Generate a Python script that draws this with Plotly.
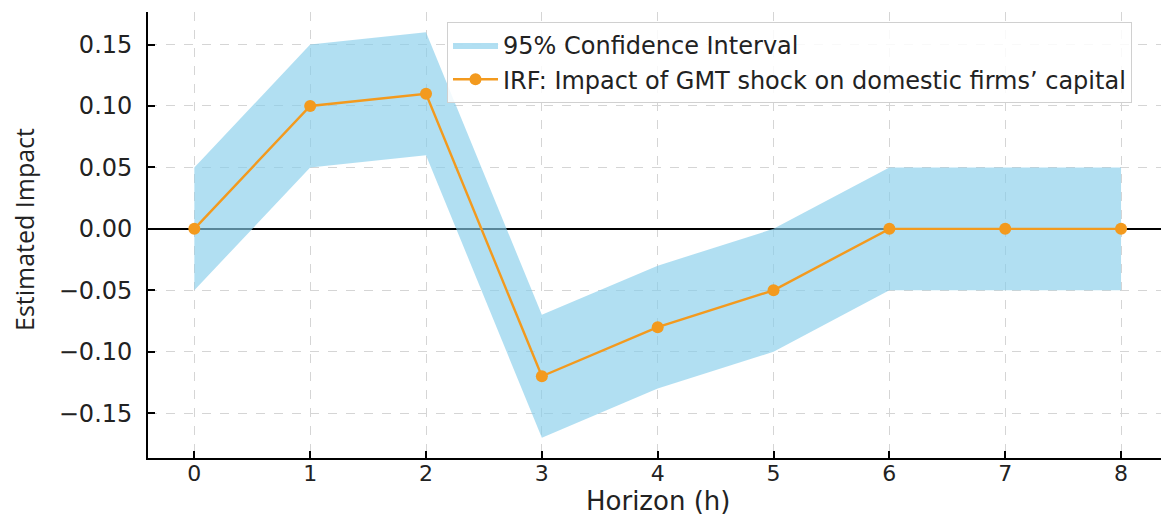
import plotly.graph_objects as go

horizon = [0, 1, 2, 3, 4, 5, 6, 7, 8]
irf = [0.00, 0.10, 0.11, -0.12, -0.08, -0.05, 0.00, 0.00, 0.00]
lower = [-0.05, 0.05, 0.06, -0.17, -0.13, -0.10, -0.05, -0.05, -0.05]
upper = [0.05, 0.15, 0.16, -0.07, -0.03, 0.00, 0.05, 0.05, 0.05]
y_ticks = [-0.15, -0.10, -0.05, 0.00, 0.05, 0.10, 0.15]
y_tick_text = ["\u22120.15", "\u22120.10", "\u22120.05", "0.00", "0.05", "0.10", "0.15"]

FILL = "rgba(135,206,235,0.65)"
ORANGE = "#F39A1E"
FONT = "DejaVu Sans"
TXT = "#222222"

W, H = 1161, 516
L, R, T, B = 148, 0, 12, 58
PW, PH = W - L - R, H - T - B

fig = go.Figure()
fig.add_trace(go.Scatter(x=horizon, y=upper, mode="lines", line=dict(width=0),
                         showlegend=False, hoverinfo="skip"))
fig.add_trace(go.Scatter(x=horizon, y=lower, mode="lines", line=dict(width=0),
                         fill="tonexty", fillcolor=FILL, name="95% Confidence Interval"))
fig.add_trace(go.Scatter(x=horizon, y=irf, mode="lines+markers",
                         line=dict(color=ORANGE, width=2.4),
                         marker=dict(color=ORANGE, size=12),
                         name="IRF: Impact of GMT shock on domestic firms\u2019 capital"))

fig.update_layout(
    width=W, height=H,
    margin=dict(l=L, r=R, t=T, b=B, pad=0),
    paper_bgcolor="white", plot_bgcolor="white",
    font=dict(family=FONT, color=TXT),
    legend=dict(x=(447 - L) / PW, y=(458 - 22) / PH, xanchor="left", yanchor="top",
                traceorder="normal",
                bgcolor="rgba(255,255,255,0.85)", bordercolor="#d0d0d0", borderwidth=1,
                font=dict(size=24, family=FONT, color=TXT), tracegroupgap=0,
                itemwidth=45),
    xaxis=dict(range=[-0.4, 8.345], tickvals=horizon, ticks="inside", ticklen=7,
               tickwidth=1.5, tickcolor="black", automargin=False, ticklabelstandoff=-5,
               showline=True, linecolor="black", linewidth=1.8,
               showgrid=True, gridcolor="#d5d5d5", griddash="dash", gridwidth=1,
               zeroline=False, tickfont=dict(size=22, family=FONT, color=TXT)),
    yaxis=dict(range=[-0.1865, 0.1765], tickvals=y_ticks, ticktext=y_tick_text,
               ticks="inside", ticklen=7, tickwidth=1.5, tickcolor="black",
               automargin=False, ticklabelstandoff=9,
               showline=True, linecolor="black", linewidth=1.8,
               showgrid=True, gridcolor="#d5d5d5", griddash="dash", gridwidth=1,
               zeroline=True, zerolinecolor="black", zerolinewidth=1.6,
               tickfont=dict(size=24, family=FONT, color=TXT)),
    annotations=[
        dict(text="Estimated Impact", xref="paper", yref="paper",
             x=(24 - L) / PW, y=(458 - 230) / PH, textangle=-90,
             showarrow=False, xanchor="center", yanchor="middle",
             font=dict(size=25, family="Open Sans", color=TXT)),
        dict(text="Horizon (h)", xref="paper", yref="paper",
             x=(658 - L) / PW, y=(458 - 501) / PH,
             showarrow=False, xanchor="center", yanchor="middle",
             font=dict(size=26, family=FONT, color=TXT)),
    ],
)

fig.write_html("out.html", config={"displayModeBar": False},
               post_script="document.body.style.margin='0';document.body.style.overflow='hidden';")
